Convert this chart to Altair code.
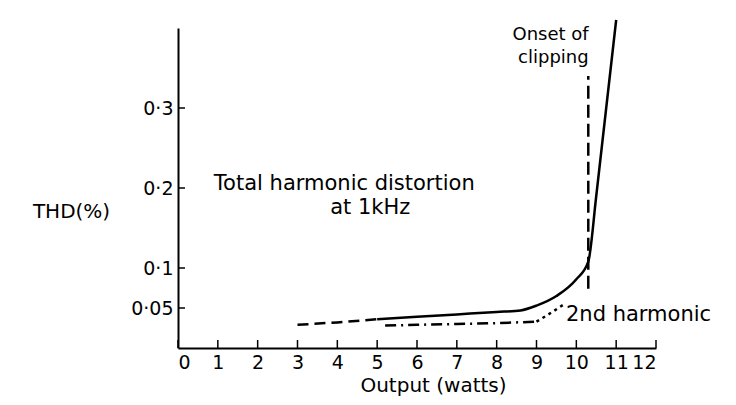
import altair as alt
import pandas as pd

# ---- data ----
thd_dash_x = [3.0, 4.0, 5.0]
thd_dash_y = [0.029, 0.032, 0.036]
thd_solid_x = [5.0, 6.0, 7.0, 8.0, 8.6, 9.0, 9.5, 10.0, 10.3, 10.5, 11.0]
thd_solid_y = [0.036, 0.039, 0.042, 0.045, 0.047, 0.053, 0.065, 0.086, 0.108, 0.19, 0.41]
h2_dashdot_x = [5.2, 6.0, 7.0, 8.0, 9.0]
h2_dashdot_y = [0.028, 0.029, 0.030, 0.031, 0.033]
h2_dot_x = [9.0, 9.3, 9.7]
h2_dot_y = [0.033, 0.042, 0.055]
clip_x = [10.3, 10.3]
clip_y = [0.074, 0.34]
x_ticks = list(range(0, 13))
y_ticks = [0.05, 0.1, 0.2, 0.3]

ann_text = ["Total harmonic distortion", "at 1kHz", "2nd harmonic"]
ann_x = [0.9, 3.82, 9.74]
ann_y = [0.197, 0.1675, 0.034]
clip_text = ["Onset of", "clipping"]
clip_tx = [10.31, 10.31]
clip_ty = [0.3845, 0.3565]

FONT = "DejaVu Sans"

xs = alt.Scale(domain=[0, 12], nice=False, zero=True)
ys = alt.Scale(domain=[0, 0.4], nice=False, zero=True)

X = alt.X("x:Q", scale=xs, axis=alt.Axis(
    values=x_ticks, format="d", title="Output (watts)",
    titleX=255, titleY=43, titleAlign="center", titleBaseline="alphabetic",
    labelPadding=5))
Y = alt.Y("y:Q", scale=ys, axis=alt.Axis(
    values=y_ticks, format=".2~f", labelExpr="replace(datum.label, '.', '·')",
    title="THD(%)", titleAngle=0, titleX=-107, titleY=183,
    titleAlign="center", titleBaseline="middle", labelPadding=5))

def df(xv, yv):
    return pd.DataFrame({"x": xv, "y": yv})

base_line = dict(color="black", strokeWidth=2.5, strokeCap="butt")

thd_dash = alt.Chart(df(thd_dash_x, thd_dash_y)).mark_line(
    strokeDash=[11, 6], **base_line).encode(x=X, y=Y)
thd_solid = alt.Chart(df(thd_solid_x, thd_solid_y)).mark_line(
    interpolate="monotone", **base_line).encode(x=X, y=Y)
h2_dd = alt.Chart(df(h2_dashdot_x, h2_dashdot_y)).mark_line(
    strokeDash=[11, 5, 2, 5], **base_line).encode(x=X, y=Y)
h2_dot = alt.Chart(df(h2_dot_x, h2_dot_y)).mark_line(
    strokeDash=[3, 4], interpolate="monotone", **base_line).encode(x=X, y=Y)
clip_line = alt.Chart(df(clip_x, clip_y)).mark_line(
    strokeDash=[13, 6], **base_line).encode(x=X, y=Y)

xt = alt.Chart(pd.DataFrame({"x": x_ticks})).mark_rule(
    color="black", strokeWidth=1.5).encode(x=X, y=alt.value(320), y2=alt.value(312))
yt = alt.Chart(pd.DataFrame({"y": y_ticks})).mark_rule(
    color="black", strokeWidth=1.5).encode(y=Y, x=alt.value(0), x2=alt.value(7))

ann = alt.Chart(pd.DataFrame({"x": ann_x, "y": ann_y, "t": ann_text})).mark_text(
    align="left", baseline="alphabetic", font=FONT, fontSize=21, color="black"
).encode(x=X, y=Y, text="t:N")
clip_ann = alt.Chart(pd.DataFrame({"x": clip_tx, "y": clip_ty, "t": clip_text})).mark_text(
    align="right", baseline="alphabetic", font=FONT, fontSize=18, color="black"
).encode(x=X, y=Y, text="t:N")

chart = alt.layer(
    xt, yt, thd_dash, thd_solid, h2_dd, h2_dot, clip_line, ann, clip_ann
).properties(
    width=478, height=320, autosize="none",
    padding={"left": 170, "top": 20, "right": 70, "bottom": 49},
    background="white",
).configure_view(stroke=None).configure_axis(
    grid=False, ticks=False, domainColor="black", domainWidth=2,
    labelFont=FONT, labelFontSize=19, labelColor="black",
    titleFont=FONT, titleFontSize=20, titleFontWeight="normal", titleColor="black",
)

chart.save("out.html", embed_options={"renderer": "svg", "actions": False})
